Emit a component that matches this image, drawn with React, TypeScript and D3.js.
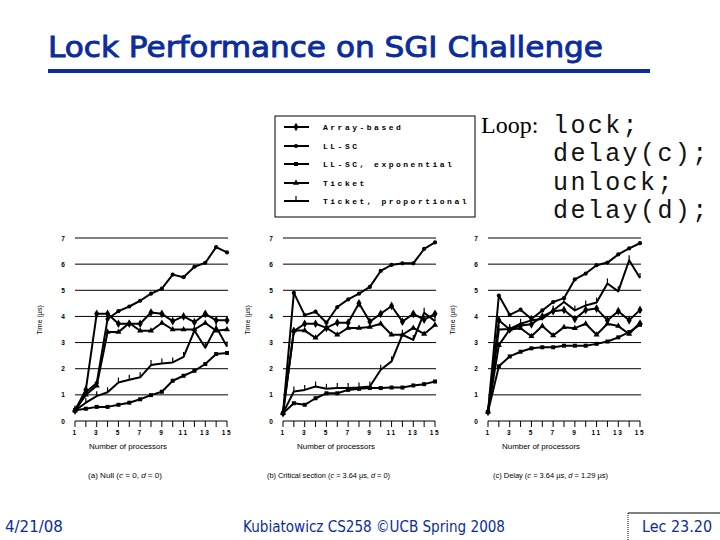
import * as d3 from 'd3';

// slide frame
const W = 720
const H = 540
const blue = '#0b2c9e'

// x: number of processors, y: time in microseconds
const processors = [1, 2, 3, 4, 5, 6, 7, 8, 9, 10, 11, 12, 13, 14, 15]
const xTickLabels = [1, 3, 5, 7, 9, 11, 13, 15]
const yTickLabels = [0, 1, 2, 3, 4, 5, 6, 7]

const seriesNames = ['Array-based', 'LL-SC', 'LL-SC, exponential', 'Ticket', 'Ticket, proportional']

// (a) Null
const nullArray = [0.4, 1.2, 4.1, 4.1, 3.72, 3.72, 3.72, 4.15, 4.1, 3.82, 4.0, 3.78, 4.1, 3.85, 3.85]
const nullLLSC = [0.4, 1.1, 1.45, 3.9, 4.2, 4.38, 4.6, 4.87, 5.06, 5.6, 5.5, 5.9, 6.05, 6.65, 6.45]
const nullLLSCExp = [0.41, 0.47, 0.54, 0.54, 0.62, 0.7, 0.83, 0.99, 1.12, 1.54, 1.73, 1.92, 2.18, 2.56, 2.6]
const nullTicket = [0.4, 1.0, 1.35, 3.4, 3.4, 3.75, 3.45, 3.45, 3.75, 3.5, 3.5, 3.5, 3.75, 3.45, 3.5]
const nullTicketProp = [0.4, 0.7, 0.95, 1.1, 1.47, 1.58, 1.67, 2.14, 2.2, 2.24, 2.45, 3.46, 2.8, 3.6, 2.85]

// (b) Critical section
const critArray = [0.3, 3.44, 3.72, 3.72, 3.56, 3.76, 3.76, 4.5, 3.8, 4.1, 4.4, 3.8, 4.1, 3.88, 4.1]
const critLLSC = [0.3, 4.9, 4.05, 4.18, 3.76, 4.36, 4.65, 4.87, 5.13, 5.74, 5.97, 6.03, 6.03, 6.58, 6.83]
const critLLSCExp = [0.3, 0.68, 0.62, 0.87, 1.06, 1.06, 1.19, 1.23, 1.26, 1.26, 1.28, 1.28, 1.36, 1.41, 1.51]
const critTicket = [0.3, 3.46, 3.46, 3.18, 3.56, 3.3, 3.56, 3.56, 3.6, 3.72, 3.3, 3.3, 3.56, 3.33, 3.67]
const critTicketProp = [0.3, 1.13, 1.19, 1.32, 1.23, 1.26, 1.26, 1.28, 1.32, 1.96, 2.28, 3.3, 3.1, 4.14, 3.82]

// (c) Delay
const delayArray = [0.35, 3.85, 3.5, 3.65, 3.7, 4.0, 4.2, 4.25, 3.9, 4.25, 4.3, 3.85, 4.2, 3.85, 4.25]
const delayLLSC = [0.35, 4.8, 4.06, 4.26, 3.9, 4.23, 4.55, 4.7, 5.42, 5.64, 5.96, 6.06, 6.37, 6.6, 6.8]
const delayLLSCExp = [0.35, 2.09, 2.47, 2.65, 2.78, 2.82, 2.82, 2.88, 2.88, 2.88, 2.95, 3.04, 3.2, 3.4, 3.68]
const delayTicket = [0.35, 2.9, 3.5, 3.55, 3.24, 3.63, 3.27, 3.59, 3.55, 3.72, 3.3, 3.72, 3.63, 3.33, 3.76]
const delayTicketProp = [0.35, 3.5, 3.52, 3.72, 3.85, 3.9, 4.23, 4.55, 4.23, 4.42, 4.53, 5.26, 4.96, 6.15, 5.47]

const codeLines = ['lock;', 'delay(c);', 'unlock;', 'delay(d);']

const panels = [
  { left: 75, right: 227, series: [nullArray, nullLLSC, nullLLSCExp, nullTicket, nullTicketProp],
    caption: ['(a) Null (', 'c', ' = 0, ', 'd', ' = 0)'], capX: 88, capW: 74 },
  { left: 283, right: 435, series: [critArray, critLLSC, critLLSCExp, critTicket, critTicketProp],
    caption: ['(b) Critical section (', 'c', ' = 3.64 µs, ', 'd', ' = 0)'], capX: 267, capW: 123 },
  { left: 488, right: 640, series: [delayArray, delayLLSC, delayLLSCExp, delayTicket, delayTicketProp],
    caption: ['(c) Delay (', 'c', ' = 3.64 µs, ', 'd', ' = 1.29 µs)'], capX: 493, capW: 115 },
]

const yScale = d3.scaleLinear().domain([0, 7]).range([421, 238])

// one marker per series, same order as seriesNames
const markers = [
  d3.symbol(d3.symbolDiamond, 22)(),
  d3.symbol(d3.symbolCircle, 14)(),
  d3.symbol(d3.symbolSquare, 16)(),
  d3.symbol(d3.symbolTriangle, 16)(),
  'M-0.6,0V-5H0.6V0Z',
]

const smallFont = "'Liberation Sans', Arial, sans-serif"
const slideFont = "'DejaVu Sans', Verdana, sans-serif"

const Panel = ({ p }: { p: typeof panels[number] }) => {
  const x = d3.scaleLinear().domain([1, 15]).range([p.left, p.right])
  const line = d3.line<number>().x((_, i) => x(processors[i])).y(d => yScale(d))
  const y0 = yScale(0)

  return (
    <g>
      {/* gridlines */}
      {yTickLabels.slice(1).map(t => (
        <line key={t} x1={p.left} x2={p.right + 1} y1={yScale(t)} y2={yScale(t)} stroke="#000" strokeWidth={1} />
      ))}
      {yTickLabels.map(t => (
        <text key={t} x={p.left - 12} y={yScale(t) + 2.5} fontSize={6.5} fontFamily={smallFont} fontWeight="bold" textAnchor="middle">{t}</text>
      ))}
      <text transform={`translate(${p.left - 33},320) rotate(-90)`} fontSize={7} fontFamily={smallFont} textAnchor="middle">Time (µs)</text>

      {/* x axis */}
      <line x1={p.left} x2={p.right} y1={y0} y2={y0} stroke="#000" strokeWidth={1.2} />
      {processors.map(v => (
        <line key={v} x1={x(v)} x2={x(v)} y1={y0} y2={y0 + 6} stroke="#000" strokeWidth={1} />
      ))}
      {xTickLabels.map(v => (
        <text key={v} x={x(v)} y={435} fontSize={6.5} fontFamily={smallFont} fontWeight="bold" letterSpacing={1.6} textAnchor="middle">{v}</text>
      ))}
      <text x={p.left + 14} y={449} fontSize={8} fontFamily={smallFont} textLength={78} lengthAdjust="spacingAndGlyphs">Number of processors</text>
      <text x={p.capX} y={478} fontSize={7.5} fontFamily={smallFont} textLength={p.capW} lengthAdjust="spacingAndGlyphs">
        {p.caption.map((s, i) => (
          <tspan key={i} fontStyle={i % 2 === 1 ? 'italic' : 'normal'}>{s}</tspan>
        ))}
      </text>

      {/* series */}
      {p.series.map((vals, si) => (
        <g key={si}>
          <path d={line(vals) || ''} fill="none" stroke="#000" strokeWidth={2} strokeLinejoin="round" />
          {vals.map((v, i) => (
            <path key={i} d={markers[si]} transform={`translate(${x(processors[i])},${yScale(v)})`} fill="#000" />
          ))}
        </g>
      ))}
    </g>
  )
}

const App = () => {
  const legendRows = [127, 146, 164, 183, 201]
  const codeRows = [133, 161, 190, 218]
  return (
    <svg width={W} height={H} viewBox={`0 0 ${W} ${H}`} style={{ position: 'absolute', left: 0, top: 0, background: '#fff' }}>
      <rect width={W} height={H} fill="#fff" />

      {/* title */}
      <text x={48} y={57} fontSize={29} fontFamily={slideFont} fill={blue} stroke={blue} strokeWidth={0.9} textLength={555} lengthAdjust="spacingAndGlyphs">Lock Performance on SGI Challenge</text>
      <rect x={48} y={69} width={602} height={4} fill={blue} />

      {/* legend */}
      <rect x={275} y={116} width={200} height={101} fill="#fff" stroke="#000" strokeWidth={1} />
      {seriesNames.map((name, i) => (
        <g key={name}>
          <line x1={284} x2={309} y1={legendRows[i]} y2={legendRows[i]} stroke="#000" strokeWidth={2} />
          <path d={markers[i]} transform={`translate(296,${legendRows[i]})`} fill="#000" />
          <text x={323} y={legendRows[i] + 3} fontSize={8} fontFamily="'Liberation Mono', monospace" letterSpacing={2.5} fontWeight="bold">{name}</text>
        </g>
      ))}

      {/* loop code */}
      <text x={481} y={codeRows[0]} fontSize={24} fontFamily="'Liberation Serif', 'Times New Roman', serif">Loop:</text>
      {codeLines.map((c, i) => (
        <text key={c + i} x={553} y={codeRows[i]} fontSize={25} letterSpacing={2.4} fill="#111" fontFamily="'Liberation Mono', 'Courier New', monospace">{c}</text>
      ))}

      {panels.map((p, i) => <Panel key={i} p={p} />)}

      {/* footer */}
      <text x={5} y={532} fontSize={15} fontFamily={slideFont} fill={blue}>4/21/08</text>
      <text x={243} y={532} fontSize={15} fontFamily={slideFont} fill={blue} textLength={262} lengthAdjust="spacingAndGlyphs">Kubiatowicz CS258 ©UCB Spring 2008</text>
      <line x1={628} x2={720} y1={513} y2={513} stroke="#000" strokeWidth={1} />
      <line x1={628} x2={628} y1={513} y2={540} stroke="#000" strokeWidth={1} strokeDasharray="1,1" />
      <text x={642} y={532} fontSize={15} fontFamily={slideFont} fill={blue} textLength={70} lengthAdjust="spacingAndGlyphs">Lec 23.20</text>
    </svg>
  )
}

export default App
